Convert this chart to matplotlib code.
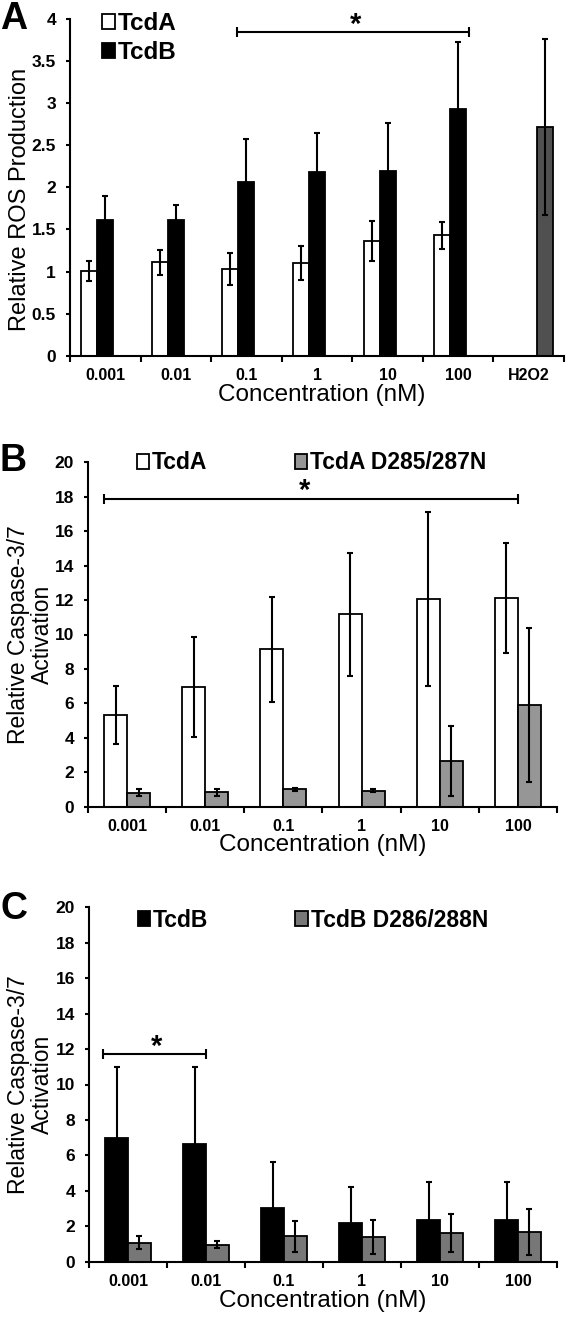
import matplotlib
matplotlib.use('Agg')
import matplotlib.pyplot as plt
import numpy as np
from matplotlib.ticker import FixedLocator, NullFormatter

plt.rcParams['font.family'] = ['Liberation Sans', 'DejaVu Sans']

# ---------------- data ----------------
a_categories = ['0.001', '0.01', '0.1', '1', '10', '100', 'H2O2']
a_tcda = [1.01, 1.11, 1.03, 1.10, 1.36, 1.43]
a_tcda_err = [0.12, 0.15, 0.19, 0.20, 0.24, 0.16]
a_tcdb = [1.61, 1.61, 2.07, 2.18, 2.19, 2.93]
a_tcdb_err = [0.29, 0.18, 0.51, 0.47, 0.58, 0.80]
a_h2o2 = [2.72]
a_h2o2_err = [1.05]
a_yticks = [0, 0.5, 1, 1.5, 2, 2.5, 3, 3.5, 4]
a_yticklabels = ['0', '0.5', '1', '1.5', '2', '2.5', '3', '3.5', '4']

b_categories = ['0.001', '0.01', '0.1', '1', '10', '100']
b_tcda = [5.32, 6.93, 9.14, 11.17, 12.04, 12.10]
b_tcda_err = [1.70, 2.90, 3.05, 3.58, 5.05, 3.20]
b_mut = [0.81, 0.85, 1.00, 0.93, 2.65, 5.90]
b_mut_err = [0.20, 0.20, 0.10, 0.10, 2.05, 4.45]

c_categories = ['0.001', '0.01', '0.1', '1', '10', '100']
c_tcdb = [7.00, 6.62, 3.05, 2.18, 2.37, 2.38]
c_tcdb_err = [4.00, 4.38, 2.55, 2.03, 2.13, 2.10]
c_mut = [1.08, 0.97, 1.43, 1.41, 1.62, 1.68]
c_mut_err = [0.38, 0.20, 0.88, 0.96, 1.08, 1.28]

bc_yticks = list(range(0, 21, 2))

# significance brackets: (x_start, x_end, y, star_x, star_y)
a_sig = (1.87, 5.15, 3.85, 3.55, 3.93)
b_sig = (-0.29, 5.00, 17.87, 2.27, 18.35)
c_sig = (-0.32, 1.00, 11.74, 0.36, 12.1)

# ---------------- styling ----------------
W, H = 566, 1317
DPI = 100
fig = plt.figure(figsize=(W / DPI, H / DPI), dpi=DPI)
fig.patch.set_facecolor('white')

def px_axes(left, right, top, bottom):
    return fig.add_axes([left / W, 1 - bottom / H, (right - left) / W, (bottom - top) / H])

EDGE_LW = 1.3
ERR_KW = dict(ecolor='black', elinewidth=1.5, capsize=2, capthick=1.5)
TICK_FS = 11.5
YTICK_FS = 12.5
LABEL_FS = 16.5
XLABEL_FS = 17.5
LEG_FS = 16.5

def style_axes(ax, n, ymax, yticks, yticklabels, cats):
    for s in ['top', 'right']:
        ax.spines[s].set_visible(False)
    for s in ['left', 'bottom']:
        ax.spines[s].set_linewidth(1.5)
    ax.set_xlim(-0.5, n - 0.5)
    ax.set_ylim(0, ymax)
    ax.set_yticks(yticks)
    ax.set_yticklabels(yticklabels, fontsize=YTICK_FS, fontweight='bold')
    ax.set_xticks(range(n))
    ax.set_xticklabels(cats, fontsize=TICK_FS, fontweight='bold')
    ax.xaxis.set_minor_locator(FixedLocator(np.arange(-0.5, n, 1.0)))
    ax.xaxis.set_minor_formatter(NullFormatter())
    ax.tick_params(axis='x', which='major', length=0, pad=9)
    ax.tick_params(axis='x', which='minor', length=4, width=1.5, direction='out')
    ax.tick_params(axis='y', which='major', length=3, width=1.5, direction='out', pad=7)
    ax.set_xlabel('Concentration (nM)', fontsize=XLABEL_FS)

def sig(ax, s, cap):
    x1, x2, y, sx, sy = s
    ax.plot([x1, x2], [y, y], color='black', lw=1.5, marker='|', markersize=cap, mew=1.5,
            solid_capstyle='butt', clip_on=False)
    ax.text(sx, sy, '*', fontsize=21, fontweight='bold', ha='center', va='center')

# ---------------- panel A ----------------
axA = px_axes(70, 564, 19.3, 355.6)
wA = 0.227
xa = np.arange(len(a_tcda))
bA1 = axA.bar(xa - wA, a_tcda, wA, yerr=a_tcda_err, color='white', edgecolor='black',
              linewidth=EDGE_LW, error_kw=ERR_KW, label='TcdA')
bA2 = axA.bar(xa, a_tcdb, wA, yerr=a_tcdb_err, color='black', edgecolor='black',
              linewidth=EDGE_LW, error_kw=ERR_KW, label='TcdB')
axA.bar([6 + wA], a_h2o2, wA, yerr=a_h2o2_err, color='#505050', edgecolor='black',
        linewidth=EDGE_LW, error_kw=ERR_KW)
style_axes(axA, 7, 4, a_yticks, a_yticklabels, a_categories)
axA.set_ylabel('Relative ROS Production', fontsize=17)
axA.yaxis.set_label_coords(-0.079, 0.463)
axA.xaxis.set_label_coords(0.51, -0.085)
sig(axA, a_sig, 7)
axA.legend(handles=[bA1, bA2], labels=['TcdA', 'TcdB'], loc='center left',
           bbox_to_anchor=(0.064, 0.944), frameon=False,
           prop={'weight': 'bold', 'size': 17.5}, handlelength=0.55, handleheight=0.6,
           handletextpad=0.12, labelspacing=0.25, borderpad=0, borderaxespad=0)

# ---------------- panel B ----------------
axB = px_axes(88, 557, 462.3, 806.7)
wB = 0.294
xb = np.arange(len(b_tcda))
bB1 = axB.bar(xb - wB / 2, b_tcda, wB, yerr=b_tcda_err, color='white', edgecolor='black',
              linewidth=EDGE_LW, error_kw=ERR_KW)
bB2 = axB.bar(xb + wB / 2, b_mut, wB, yerr=b_mut_err, color='#969696', edgecolor='black',
              linewidth=EDGE_LW, error_kw=ERR_KW)
style_axes(axB, 6, 20, bc_yticks, [str(v) for v in bc_yticks], b_categories)
axB.set_ylabel('Relative Caspase-3/7\nActivation', fontsize=LABEL_FS, linespacing=1.05)
axB.yaxis.set_label_coords(-0.072, 0.5)
axB.xaxis.set_label_coords(0.5, -0.08)
sig(axB, b_sig, 7)
axB.legend(handles=[bB1, bB2], labels=['TcdA', 'TcdA D285/287N'], loc='center left',
           bbox_to_anchor=(0.104, 0.998), frameon=False, ncol=2,
           prop={'weight': 'bold', 'size': LEG_FS}, handlelength=0.55, handleheight=0.6,
           handletextpad=0.12, columnspacing=3.8, borderpad=0, borderaxespad=0)

# ---------------- panel C ----------------
axC = px_axes(89, 557, 907.3, 1261.7)
xc = np.arange(len(c_tcdb))
bC1 = axC.bar(xc - wB / 2, c_tcdb, wB, yerr=c_tcdb_err, color='black', edgecolor='black',
              linewidth=EDGE_LW, error_kw=ERR_KW)
bC2 = axC.bar(xc + wB / 2, c_mut, wB, yerr=c_mut_err, color='#777777', edgecolor='black',
              linewidth=EDGE_LW, error_kw=ERR_KW)
style_axes(axC, 6, 20, bc_yticks, [str(v) for v in bc_yticks], c_categories)
axC.set_ylabel('Relative Caspase-3/7\nActivation', fontsize=LABEL_FS, linespacing=1.05)
axC.yaxis.set_label_coords(-0.074, 0.5)
axC.xaxis.set_label_coords(0.5, -0.08)
sig(axC, c_sig, 7)
axC.legend(handles=[bC1, bC2], labels=['TcdB', 'TcdB D286/288N'], loc='center left',
           bbox_to_anchor=(0.104, 0.964), frameon=False, ncol=2,
           prop={'weight': 'bold', 'size': LEG_FS}, handlelength=0.55, handleheight=0.6,
           handletextpad=0.12, columnspacing=3.8, borderpad=0, borderaxespad=0)

# panel letters
for letter, top in [('A', 1), ('B', 443), ('C', 891)]:
    fig.text(0.0, 1 - top / H, letter, fontsize=27, fontweight='bold', ha='left', va='top')

fig.savefig('out.png', dpi=DPI, facecolor='white')
